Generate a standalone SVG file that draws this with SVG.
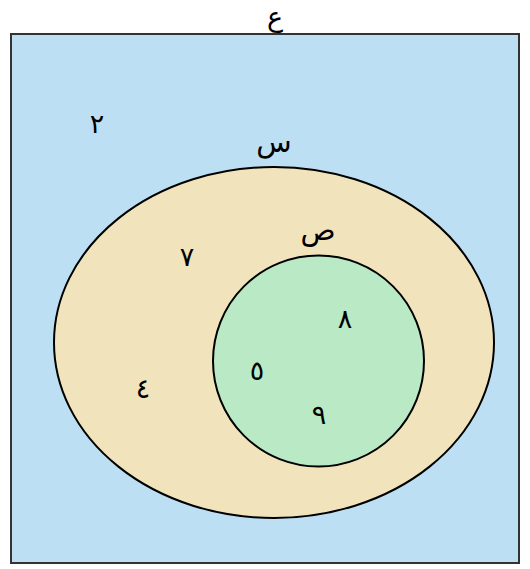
<svg xmlns="http://www.w3.org/2000/svg" width="530" height="569" viewBox="0 0 530 569">
<style>
text{font-family:"DejaVu Sans","Noto Sans",sans-serif;font-size:27px;fill:#000;text-anchor:middle;dominant-baseline:central}
text.l{font-size:29px}
.shape{stroke:#000;stroke-width:2}
</style>
<rect width="530" height="569" fill="#fff"/>
<g id="set-U">
<rect x="11" y="34" width="508" height="529" fill="#bddff3" stroke="#333" stroke-width="2"/>
<text x="275" y="16.5">ع</text>
<text x="97" y="123">٢</text>
</g>
<g id="set-X">
<ellipse class="shape" cx="274" cy="342.5" rx="220" ry="175.5" fill="#f1e4bd"/>
<text class="l" x="274" y="142">س</text>
<text x="187" y="256">٧</text>
<text x="143" y="388">٤</text>
</g>
<g id="set-Y">
<circle class="shape" cx="318.5" cy="361" r="105.5" fill="#b9e9c5"/>
<text class="l" x="318" y="230">ص</text>
<text x="345" y="318">٨</text>
<text x="257" y="370">٥</text>
<text x="319" y="414">٩</text>
</g>
<g id="connectors"/>
</svg>
